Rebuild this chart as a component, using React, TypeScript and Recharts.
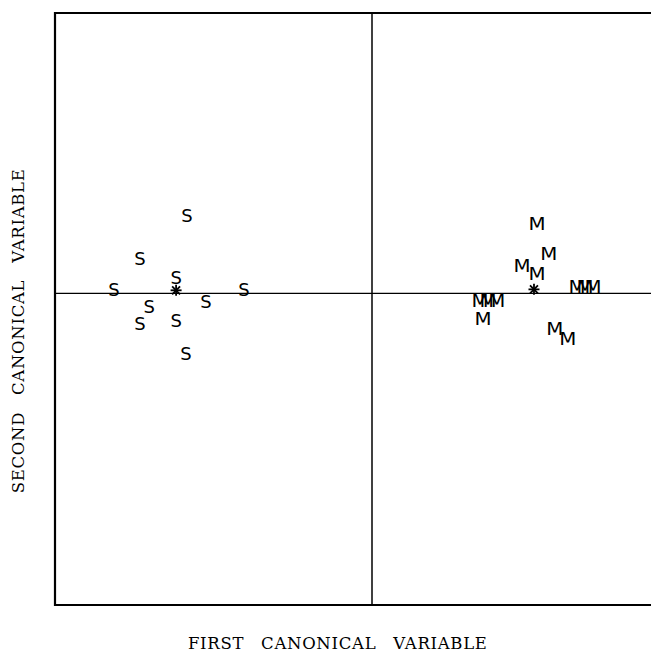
import React from 'react';
import { ScatterChart, Scatter, XAxis, YAxis, ReferenceLine, ReferenceArea } from 'recharts';

// Group S (first canonical, second canonical)
const S_X = [-5.84, -7.32, -6.18, -8.14, -4.04, -5.24, -7.03, -7.32, -6.18, -5.87];
const S_Y = [2.5, 1.12, 0.51, 0.13, 0.13, -0.26, -0.42, -0.96, -0.86, -1.92];
// Group M
const M_X = [5.21, 5.58, 4.73, 5.21, 6.47, 6.72, 6.97, 3.41, 3.66, 3.94, 3.5, 5.77, 6.18];
const M_Y = [2.24, 1.28, 0.9, 0.64, 0.22, 0.22, 0.22, -0.24, -0.24, -0.24, -0.8, -1.12, -1.44];
// Group centroids (asterisks)
const CENTROID_X = [-6.18, 5.11];
const CENTROID_Y = [0.1, 0.13];

const X_DOMAIN = [-10, 10];
const Y_DOMAIN = [-10, 9];
const X_TITLE = 'FIRST CANONICAL VARIABLE';
const Y_TITLE = 'SECOND CANONICAL VARIABLE';

const sData = S_X.map((x, i) => ({ x, y: S_Y[i] }));
const mData = M_X.map((x, i) => ({ x, y: M_Y[i] }));
const cData = CENTROID_X.map((x, i) => ({ x, y: CENTROID_Y[i] }));

const FS = 18;
const letterShape = (ch: string, sx: number) => (props: any) => {
  const { cx, cy } = props;
  if (cx == null || cy == null) return <g />;
  return (
    <text
      x={0}
      y={FS * 0.36}
      transform={`translate(${cx} ${cy}) scale(${sx} 1)`}
      textAnchor="middle"
      fontFamily="DejaVu Sans"
      fontSize={FS}
      fill="#000"
    >
      {ch}
    </text>
  );
};

const starShape = (props: any) => {
  const { cx, cy } = props;
  if (cx == null || cy == null) return <g />;
  const r = 5.5;
  const d = r * 0.72;
  return (
    <g stroke="#000" strokeWidth={1.8}>
      <line x1={cx} y1={cy - r} x2={cx} y2={cy + r} />
      <line x1={cx - r} y1={cy} x2={cx + r} y2={cy} />
      <line x1={cx - d} y1={cy - d} x2={cx + d} y2={cy + d} />
      <line x1={cx - d} y1={cy + d} x2={cx + d} y2={cy - d} />
    </g>
  );
};

const titleFont = {
  fontFamily: 'DejaVu Serif',
  fontSize: 16.5,
  letterSpacing: 0.7,
  wordSpacing: 11,
  fill: '#000',
};

const xLabel = (props: any) => {
  const vb = props.viewBox || {};
  const cx = vb.x + vb.width * 0.446;
  const y = vb.y + vb.height - 4;
  return (
    <text x={cx} y={y} textAnchor="middle" style={titleFont as any}>
      {X_TITLE}
    </text>
  );
};

const yLabel = (props: any) => {
  const vb = props.viewBox || {};
  const x = vb.x + 24.5;
  const cy = vb.y + vb.height * 0.537;
  return (
    <text
      x={x}
      y={cy}
      textAnchor="middle"
      transform={`rotate(-90 ${x} ${cy})`}
      style={titleFont as any}
    >
      {Y_TITLE}
    </text>
  );
};

export default function App() {
  return (
    <div
      style={{
        position: 'absolute',
        left: 0,
        top: 0,
        width: 651,
        height: 653,
        overflow: 'hidden',
        background: '#fff',
      }}
    >
      <ScatterChart
        width={720}
        height={653}
        margin={{ top: 13, right: 31, bottom: 0, left: 0 }}
      >
        <XAxis
          type="number"
          dataKey="x"
          domain={X_DOMAIN}
          allowDataOverflow
          height={48}
          axisLine={false}
          tickLine={false}
          tick={false}
          label={{ content: xLabel }}
        />
        <YAxis
          type="number"
          dataKey="y"
          domain={Y_DOMAIN}
          allowDataOverflow
          width={55}
          axisLine={false}
          tickLine={false}
          tick={false}
          label={{ content: yLabel }}
        />
        <ReferenceArea
          x1={X_DOMAIN[0]}
          x2={X_DOMAIN[1]}
          y1={Y_DOMAIN[0]}
          y2={Y_DOMAIN[1]}
          fill="none"
          fillOpacity={0}
          stroke="#000"
          strokeWidth={2.2}
          ifOverflow="visible"
        />
        <ReferenceLine x={0} stroke="#000" strokeWidth={1.5} />
        <ReferenceLine y={0} stroke="#000" strokeWidth={1.3} />
        <Scatter data={sData} shape={letterShape('S', 1)} isAnimationActive={false} />
        <Scatter data={mData} shape={letterShape('M', 1.1)} isAnimationActive={false} />
        <Scatter data={cData} shape={starShape} isAnimationActive={false} />
      </ScatterChart>
    </div>
  );
}
